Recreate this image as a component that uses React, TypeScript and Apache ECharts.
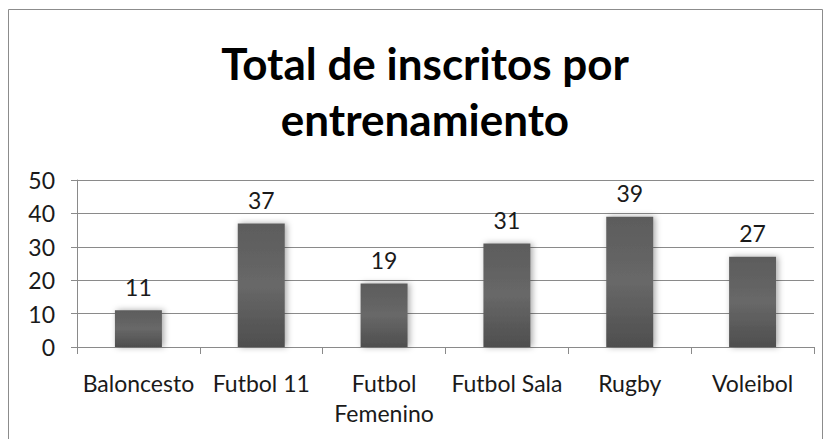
import React, { useEffect, useRef } from "react";
import * as echarts from "echarts";

const categories = ["Baloncesto", "Futbol 11", "Futbol\nFemenino", "Futbol Sala", "Rugby", "Voleibol"];
const values = [11, 37, 19, 31, 39, 27];
const titleLines = ["Total de inscritos por", "entrenamiento"];
const yMin = 0;
const yMax = 50;
const yInterval = 10;

export default function App() {
  const ref = useRef<HTMLDivElement>(null);
  useEffect(() => {
    if (!ref.current) return;
    const chart = echarts.init(ref.current, null, { renderer: "svg" });
    const font = "Lato, 'Open Sans', sans-serif";
    chart.setOption({
      animation: false,
      backgroundColor: "#ffffff",
      title: {
        text: titleLines.join("\n"),
        left: 420,
        textAlign: "center",
        top: 30,
        textStyle: {
          fontFamily: font,
          fontWeight: "bold",
          fontSize: 44,
          lineHeight: 56,
          color: "#000000",
        },
      },
      graphic: [
        {
          type: "rect",
          shape: { x: 8.5, y: 9.5, width: 814, height: 460 },
          style: { fill: "none", stroke: "#8c8c8c", lineWidth: 1 },
          silent: true,
        },
      ],
      grid: { left: 77, right: 15, top: 180, bottom: 92 },
      xAxis: {
        type: "category",
        data: categories,
        axisLine: { lineStyle: { color: "#8a8a8a", width: 1 } },
        axisTick: { show: true, alignWithLabel: false, length: 7, lineStyle: { color: "#8a8a8a" } },
        axisLabel: {
          interval: 0,
          fontFamily: font,
          fontSize: 23,
          color: "#1a1a1a",
          margin: 21,
          lineHeight: 30,
        },
      },
      yAxis: {
        type: "value",
        min: yMin,
        max: yMax,
        interval: yInterval,
        axisLine: { show: true, lineStyle: { color: "#8a8a8a" } },
        axisTick: { show: true, length: 6, lineStyle: { color: "#8a8a8a" } },
        splitLine: { lineStyle: { color: "#8a8a8a", width: 1 } },
        axisLabel: {
          fontFamily: font,
          fontSize: 23,
          color: "#1a1a1a",
          margin: 22,
        },
      },
      series: [
        {
          type: "bar",
          data: values,
          barWidth: 47,
          itemStyle: {
            color: {
              type: "linear",
              x: 0,
              y: 0,
              x2: 0,
              y2: 1,
              colorStops: [
                { offset: 0, color: "#5c5c5c" },
                { offset: 0.5, color: "#686868" },
                { offset: 1, color: "#4e4e4e" },
              ],
            },
            shadowColor: "rgba(0,0,0,0.35)",
            shadowBlur: 6,
            shadowOffsetX: 2,
            shadowOffsetY: 0,
          },
          label: {
            show: true,
            position: "top",
            distance: 12,
            fontFamily: font,
            fontSize: 23,
            color: "#1a1a1a",
          },
        },
      ],
    });
    return () => chart.dispose();
  }, []);
  return (
    <div
      ref={ref}
      style={{ position: "absolute", left: 0, top: 0, width: 829, height: 439 }}
    />
  );
}
